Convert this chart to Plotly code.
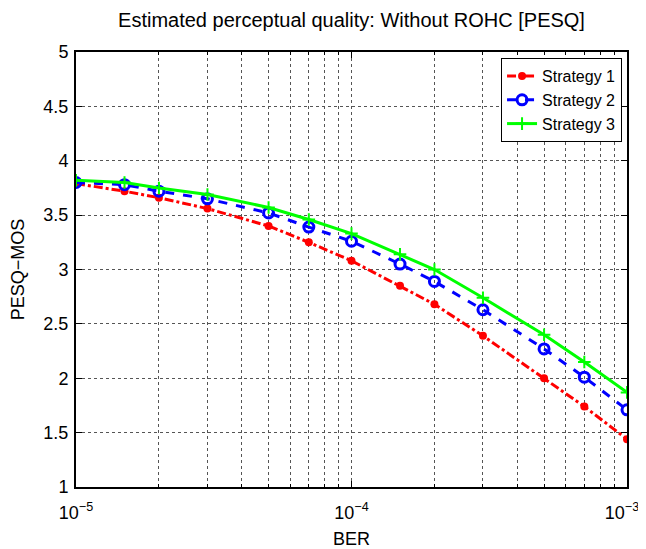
import plotly.graph_objects as go

ber = [1e-5, 1.5e-5, 2e-5, 3e-5, 5e-5, 7e-5, 1e-4, 1.5e-4, 2e-4, 3e-4, 5e-4, 7e-4, 1e-3]
strategy1 = [3.79, 3.72, 3.66, 3.56, 3.40, 3.25, 3.08, 2.85, 2.68, 2.39, 2.00, 1.74, 1.44]
strategy2 = [3.80, 3.78, 3.72, 3.65, 3.52, 3.39, 3.26, 3.05, 2.89, 2.63, 2.27, 2.01, 1.71]
strategy3 = [3.82, 3.80, 3.75, 3.69, 3.57, 3.46, 3.33, 3.14, 3.00, 2.74, 2.40, 2.15, 1.87]

x_ticks = [1e-5, 1e-4, 1e-3]
# last label gets an invisible trailing digit so it doesn't run off the page edge
x_labels = ["10<sup>\u22125</sup>", "10<sup>\u22124</sup>",
            "10<sup>\u22123</sup><span style=\"fill:rgba(0,0,0,0)\">0</span>"]
y_ticks = [1, 1.5, 2, 2.5, 3, 3.5, 4, 4.5, 5]

fig = go.Figure()
fig.add_trace(go.Scatter(x=ber, y=strategy1, name="Strategy 1", mode="lines+markers",
                         line=dict(color="#ff0000", width=3, dash="dashdot"),
                         marker=dict(symbol="circle", size=8, color="#ff0000")))
fig.add_trace(go.Scatter(x=ber, y=strategy2, name="Strategy 2", mode="lines+markers",
                         line=dict(color="#0000ff", width=3, dash="dash"),
                         marker=dict(symbol="circle-open", size=10, color="#0000ff",
                                     line=dict(width=3, color="#0000ff"))))
fig.add_trace(go.Scatter(x=ber, y=strategy3, name="Strategy 3", mode="lines+markers",
                         line=dict(color="#00ff00", width=3),
                         marker=dict(symbol="cross-thin-open", size=9, color="#00ff00",
                                     line=dict(width=2, color="#00ff00"))))

# matlab-ish axes: black box, inside ticks, dotted grid
axis_common = dict(showline=True, linecolor="black", linewidth=2, mirror="ticks",
                   ticks="inside", ticklen=6, tickcolor="black", automargin=False,
                   showgrid=True, gridcolor="#555555", griddash="dot", gridwidth=1,
                   zeroline=False, tickfont=dict(size=18, color="black"),
                   ticklabeloverflow="allow")

fig.update_xaxes(type="log", range=[-5, -3], tickvals=x_ticks, ticktext=x_labels,
                 ticklabelstandoff=8,
                 title=dict(text="BER", font=dict(size=18, color="black"), standoff=14),
                 minor=dict(dtick="D1", showgrid=True, gridcolor="#555555", griddash="dot",
                            ticks="inside", ticklen=3, tickcolor="black"),
                 **axis_common)
fig.update_yaxes(range=[1, 5], tickvals=y_ticks, ticklabelstandoff=2,
                 title=dict(text="PESQ\u2212MOS", font=dict(size=18, color="black"), standoff=16),
                 **axis_common)

# page body has an 8px margin, so the figure is a bit smaller than the window
fig.update_layout(
    width=638, height=541,
    margin=dict(l=68, r=19, t=44, b=62),
    paper_bgcolor="white", plot_bgcolor="white",
    font=dict(family="Liberation Sans, Arial, sans-serif", color="black"),
    title=dict(text="Estimated perceptual quality: Without ROHC [PESQ]",
               x=0.5, xref="paper", xanchor="center", y=0.978, yanchor="middle",
               font=dict(size=20, color="black")),
    legend=dict(x=0.991, y=0.986, xanchor="right", yanchor="top",
                bgcolor="white", bordercolor="black", borderwidth=1, itemwidth=30,
                font=dict(size=16, color="black"), tracegroupgap=0),
    showlegend=True,
)

fig.write_html("out.html")
